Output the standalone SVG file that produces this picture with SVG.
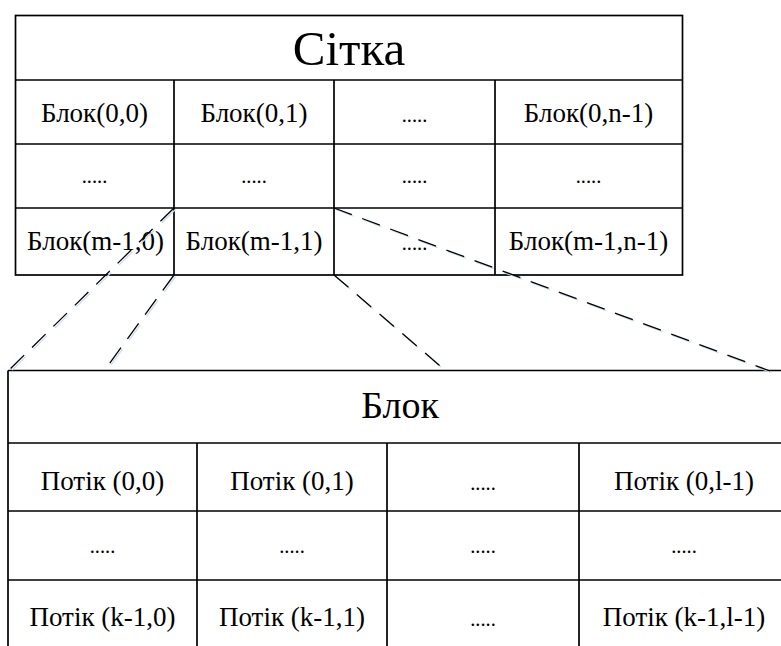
<svg xmlns="http://www.w3.org/2000/svg" width="781" height="646" viewBox="0 0 781 646">
  <style>
    .frame { fill: none; stroke: #000; stroke-width: 1.7; }
    .cell { font-family: "Liberation Serif", "DejaVu Serif", "Times New Roman", serif; font-size: 27px; fill: #000; text-anchor: middle; }
    .dots { font-family: "Liberation Serif", "Times New Roman", serif; font-size: 20.5px; fill: #000; text-anchor: middle; }
    .title { font-family: "Liberation Serif", "DejaVu Serif", "Times New Roman", serif; fill: #000; text-anchor: middle; }
    .dash { fill: none; stroke: #000; stroke-width: 1.3; stroke-dasharray: 19 11; }
    .dash-shade { fill: none; stroke: #c9ddf0; stroke-width: 1.3; stroke-dasharray: 19 11; }
  </style>
  <rect width="781" height="646" fill="#fff"/>

  <!-- Grid of blocks -->
  <g id="grid">
    <rect class="frame" x="15.5" y="15.5" width="667" height="259.5"/>
    <path class="frame" d="M15.5 80H682.5M15.5 144H682.5M15.5 208H682.5M174 80V275M334 80V275M495 80V275"/>
    <text class="title" x="349" y="65" font-size="49">Сітка</text>
  </g>
  <g id="block-0-0"><text class="cell" x="94.5" y="122">Блок(0,0)</text></g>
  <g id="block-0-1"><text class="cell" x="254" y="122">Блок(0,1)</text></g>
  <g id="block-0-x"><text class="dots" x="414.5" y="122">.....</text></g>
  <g id="block-0-n1"><text class="cell" x="588.5" y="122">Блок(0,n-1)</text></g>
  <g id="block-x-0"><text class="dots" x="94.5" y="183">.....</text></g>
  <g id="block-x-1"><text class="dots" x="254" y="183">.....</text></g>
  <g id="block-x-x"><text class="dots" x="414.5" y="183">.....</text></g>
  <g id="block-x-n1"><text class="dots" x="588.5" y="183">.....</text></g>
  <g id="block-m1-0"><text class="cell" x="95.5" y="250">Блок(m-1,0)</text></g>
  <g id="block-m1-1"><text class="cell" x="254" y="250">Блок(m-1,1)</text></g>
  <g id="block-m1-x"><text class="dots" x="414.5" y="250">.....</text></g>
  <g id="block-m1-n1"><text class="cell" x="588.5" y="250">Блок(m-1,n-1)</text></g>

  <!-- Block of threads -->
  <g id="block">
    <path class="frame" d="M8 370.5V646M8 370.5H781M8 443H781M8 511H781M8 580H781M197 443V646M387 443V646M579 443V646"/>
    <text class="title" x="400" y="418" font-size="38">Блок</text>
  </g>
  <g id="thread-0-0"><text class="cell" x="102.5" y="490">Потік (0,0)</text></g>
  <g id="thread-0-1"><text class="cell" x="292" y="490">Потік (0,1)</text></g>
  <g id="thread-0-x"><text class="dots" x="483" y="490">.....</text></g>
  <g id="thread-0-l1"><text class="cell" x="684" y="490">Потік (0,l-1)</text></g>
  <g id="thread-x-0"><text class="dots" x="102.5" y="553">.....</text></g>
  <g id="thread-x-1"><text class="dots" x="292" y="553">.....</text></g>
  <g id="thread-x-x"><text class="dots" x="483" y="553">.....</text></g>
  <g id="thread-x-l1"><text class="dots" x="684" y="553">.....</text></g>
  <g id="thread-k1-0"><text class="cell" x="102.5" y="626">Потік (k-1,0)</text></g>
  <g id="thread-k1-1"><text class="cell" x="292" y="626">Потік (k-1,1)</text></g>
  <g id="thread-k1-x"><text class="dots" x="483" y="626">.....</text></g>
  <g id="thread-k1-l1"><text class="cell" x="684" y="626">Потік (k-1,l-1)</text></g>

  <!-- Projection lines from Блок(m-1,1) to the enlarged block -->
  <g id="connectors">
    <g transform="translate(1.5 1.5)">
      <path class="dash-shade" d="M174 208L8 371"/>
      <path class="dash-shade" d="M174 275L104 371"/>
      <path class="dash-shade" d="M334 275L446 371"/>
      <path class="dash-shade" d="M334 208L770 371"/>
    </g>
    <path class="dash" d="M174 208L8 371"/>
    <path class="dash" d="M174 275L104 371"/>
    <path class="dash" d="M334 275L446 371"/>
    <path class="dash" d="M334 208L770 371"/>
  </g>
</svg>
